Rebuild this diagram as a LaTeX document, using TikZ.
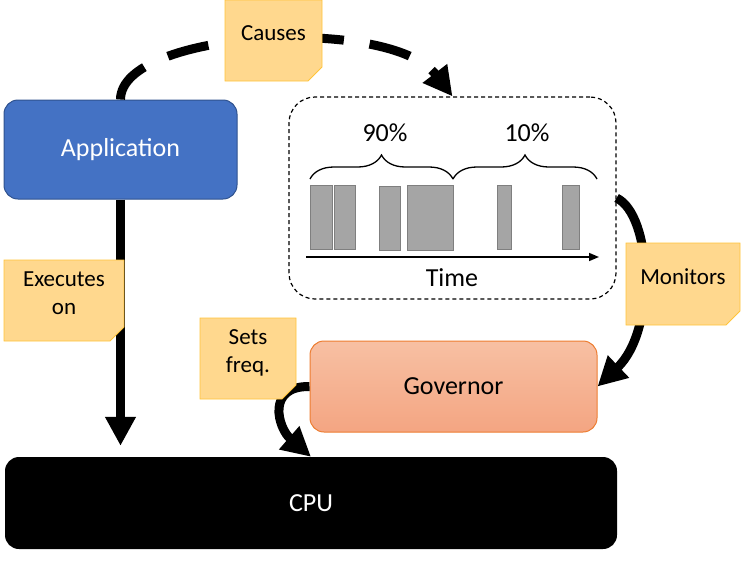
\documentclass[tikz,border=0pt]{standalone}
\usepackage{fontspec}
\setmainfont{Carlito}
\usetikzlibrary{arrows.meta,decorations.pathreplacing,shapes.misc,calc}
\definecolor{appfill}{HTML}{4472C4}
\definecolor{appedge}{HTML}{2F528F}
\definecolor{govtop}{HTML}{F7C0A3}
\definecolor{govbot}{HTML}{F4A582}
\definecolor{govedge}{HTML}{ED7D31}
\definecolor{notefill}{HTML}{FFD88E}
\definecolor{noteedge}{HTML}{FFC43A}
\definecolor{foldcol}{HTML}{D2AE68}
\definecolor{barfill}{HTML}{A5A5A5}
\definecolor{baredge}{HTML}{7F7F7F}
\tikzset{
  bigtext/.style={font=\fontsize{26}{30}\selectfont},
  note/.style={chamfered rectangle, chamfered rectangle corners=south east,
    chamfered rectangle xsep=7pt, chamfered rectangle ysep=7pt,
    fill=notefill, draw=noteedge, line width=0.9pt, align=center,
    inner sep=0pt, text depth=14pt,
    font=\fontsize{23}{28}\selectfont,
    append after command={
      [fill=foldcol, draw=noteedge, line width=0.6pt]
      ($(\tikzlastnode.south -| \tikzlastnode.east)+(0,-14)$) --
      ($(\tikzlastnode.south -| \tikzlastnode.east)+(-14,0)$) --
      ($(\tikzlastnode.south -| \tikzlastnode.east)+(-11,-10)$) -- cycle}},
  boxbase/.style={rectangle, rounded corners=14pt, bigtext},
  flow/.style={line width=9pt, -{Triangle[length=29pt,width=29pt]}},
  bar/.style={fill=barfill, draw=baredge, line width=1pt},
  brc/.style={decorate, decoration={brace, amplitude=24pt}, line width=1.3pt}
}
\begin{document}
\begin{tikzpicture}[x=1pt,y=-1pt]
\useasboundingbox (0,0) rectangle (745,571);
% boxes
\node[boxbase, fill=appfill, draw=appedge, line width=1pt, text=white,
  minimum width=233pt, minimum height=99pt] (app) at (120.5,149.5) {Application};
\node[boxbase, fill=black, text=white, minimum width=612pt, minimum height=92pt] (cpu) at (311,503) {CPU};
\node[boxbase, top color=govtop, bottom color=govbot, draw=govedge, line width=1pt,
  minimum width=287pt, minimum height=91pt] (gov) at (453.5,386.5) {Governor};
\node[rectangle, rounded corners=26pt, draw=black, line width=1.2pt,
  dash pattern=on 4pt off 3pt, minimum width=327pt, minimum height=202pt] (mon) at (452.5,198) {};
% bars
\draw[bar] (310,185) rectangle (332,249);
\draw[bar] (334,185) rectangle (355,249);
\draw[bar] (379,186) rectangle (400,250);
\draw[bar] (407,185) rectangle (453,250);
\draw[bar] (497,185) rectangle (511,249);
\draw[bar] (562,185) rectangle (579,249);
% braces
\draw[brc] (310,179) -- (453,179);
\draw[brc] (453,179) -- (597,179);
\node[bigtext] (p90) at (385,133) {90\%};
\node[bigtext] (p10) at (527,133) {10\%};
% time axis
\coordinate (t0) at (306,257);
\coordinate (t1) at (599,257);
\draw[line width=1.6pt, -{Triangle[length=10pt,width=8pt]}] (t0) -- (t1);
\node[bigtext] (time) at (452,278) {Time};
% connectors
\draw[flow, shorten >=11pt] (app.south) -- (app.south |- cpu.north);
\draw[flow, dash pattern=on 42pt off 26pt] (app.north) .. controls (121,30) and (390,15) .. (mon.north);
\draw[flow] (mon.east) .. controls (652,215) and (657,330) .. (gov.east);
\draw[flow] (gov.west) .. controls (266,386) and (278,428) .. (cpu.north);
% notes
\node[note, minimum width=97pt, minimum height=81pt] (causes) at (273.5,40.5) {Causes};
\node[note, minimum width=120pt, minimum height=81pt] (exec) at (64,300.5) {Executes\\on};
\node[note, minimum width=96pt, minimum height=81pt] (sets) at (248,358.5) {Sets\\freq.};
\node[note, minimum width=114pt, minimum height=82pt] (monit) at (683,284) {Monitors};
\end{tikzpicture}
\end{document}
